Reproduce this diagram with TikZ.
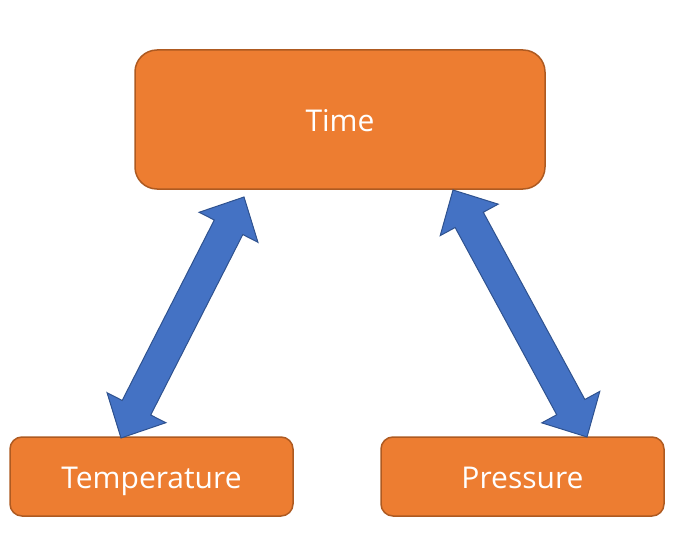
\documentclass[tikz,border=0pt]{standalone}
\usepackage{fontspec}
\setmainfont{Open Sans}
\usetikzlibrary{calc}
\definecolor{boxfill}{HTML}{ED7D31}
\definecolor{boxline}{HTML}{AE5A21}
\definecolor{arrfill}{HTML}{4472C4}
\definecolor{arrline}{HTML}{2F528F}
\tikzset{
  box/.style={draw=boxline, fill=boxfill, line width=1.5pt, text=white, inner sep=0pt,
    text height=24pt, text depth=0pt,
    font=\fontsize{30}{36}\selectfont},
  fatarrow/.style={draw=arrline, fill=arrfill, line width=1pt, line join=miter}
}
\newcommand{\fatarrowdraw}[2]{%
  \def\hl{34pt}\def\hw{33pt}\def\sw{16pt}%
  \fill[fatarrow] (#1)
    -- ($(#1)!\hl!(#2)!\hw!90:(#2)$)
    -- ($(#1)!\hl!(#2)!\sw!90:(#2)$)
    -- ($(#2)!\hl!(#1)!\sw!-90:(#1)$)
    -- ($(#2)!\hl!(#1)!\hw!-90:(#1)$)
    -- (#2)
    -- ($(#2)!\hl!(#1)!\hw!90:(#1)$)
    -- ($(#2)!\hl!(#1)!\sw!90:(#1)$)
    -- ($(#1)!\hl!(#2)!\sw!-90:(#2)$)
    -- ($(#1)!\hl!(#2)!\hw!-90:(#2)$)
    -- cycle;%
}
\begin{document}
\begin{tikzpicture}[x=1pt,y=-1pt]
\useasboundingbox (0,0) rectangle (696,559);
\node[box, minimum width=410pt, minimum height=139pt, rounded corners=22pt] (time) at (340,119.5) {Time};
\node[box, minimum width=283pt, minimum height=79pt, rounded corners=12pt] (temp) at (151.5,476.5) {Temperature};
\node[box, minimum width=283pt, minimum height=79pt, rounded corners=12pt] (pres) at (522.5,476.5) {Pressure};
\coordinate (lt) at (244,197);
\coordinate (lb) at (121,438);
\coordinate (rt) at (453,190);
\coordinate (rb) at (587,437);
\fatarrowdraw{lt}{lb}
\fatarrowdraw{rt}{rb}
\end{tikzpicture}
\end{document}
